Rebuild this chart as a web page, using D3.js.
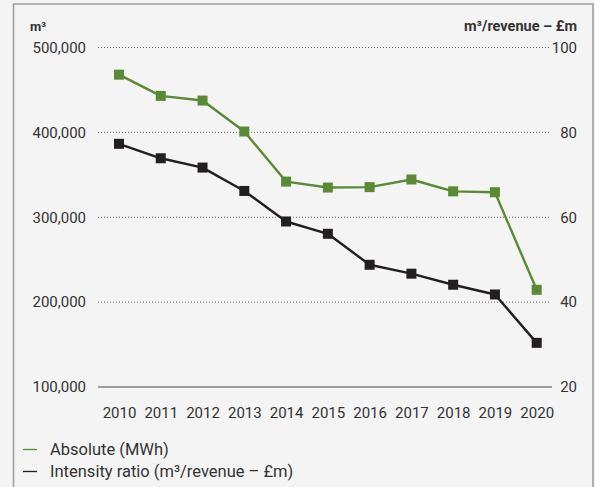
<!DOCTYPE html>
<html>
<head>
<meta charset="utf-8">
<script src="https://cdn.jsdelivr.net/npm/d3@7"></script>
<style>
  html, body { margin: 0; padding: 0; background: #f4f4f4; }
  svg { display: block; font-family: Roboto, "DejaVu Sans", sans-serif; }
</style>
</head>
<body>
<svg id="chart" width="595" height="487"></svg>
<script>
// Water consumption, absolute and intensity, 2010–2020
const years = [2010, 2011, 2012, 2013, 2014, 2015, 2016, 2017, 2018, 2019, 2020];
const absoluteM3 = [468000, 443000, 437500, 401000, 342000, 335000, 335500, 344500, 330500, 329500, 214500];
const intensityRatio = [77.3, 73.9, 71.7, 66.2, 59.0, 56.1, 48.8, 46.7, 44.1, 41.8, 30.4];
const leftTicks = [100000, 200000, 300000, 400000, 500000];
const rightTicks = [20, 40, 60, 80, 100];
const legendLabels = ["Absolute (MWh)", "Intensity ratio (m³/revenue – £m)"];

const GREEN = "#5a8a34";
const BLACK = "#231f20";
const TEXT = "#333333";

const svg = d3.select("#chart");

// outer frame
svg.append("rect")
  .attr("x", 13.5).attr("y", 4).attr("width", 579.5).attr("height", 500)
  .attr("fill", "#f4f4f4").attr("stroke", "#9a9a9a").attr("stroke-width", 1.5);

const x = d3.scalePoint().domain(years).range([119, 536.7]);
const yL = d3.scaleLinear().domain([100000, 500000]).range([387, 47.5]);
const yR = d3.scaleLinear().domain([20, 100]).range([387, 47.5]);

const fmt = d3.format(",");

// dotted gridlines (skip baseline)
svg.append("g")
  .selectAll("line")
  .data(leftTicks.filter(d => d !== 100000))
  .join("line")
  .attr("x1", 98).attr("x2", 551)
  .attr("y1", d => yL(d)).attr("y2", d => yL(d))
  .attr("stroke", "#666").attr("stroke-width", 1)
  .attr("stroke-dasharray", "1,2");

// solid baseline
svg.append("line")
  .attr("x1", 98).attr("x2", 552)
  .attr("y1", yL(100000)).attr("y2", yL(100000))
  .attr("stroke", "#444").attr("stroke-width", 1.2);

// left axis labels
const leftAxis = d3.axisLeft(yL).tickValues(leftTicks).tickFormat(fmt).tickSize(0).tickPadding(0);
const gL = svg.append("g").attr("transform", "translate(86,0)").call(leftAxis);
gL.select(".domain").remove();
gL.selectAll("text").attr("font-size", 15).attr("fill", TEXT).attr("font-family", "Roboto");

// right axis labels
const rightAxis = d3.axisRight(yR).tickValues(rightTicks).tickSize(0).tickPadding(0);
const gR = svg.append("g").attr("transform", "translate(577,0)").call(rightAxis);
gR.select(".domain").remove();
gR.selectAll("text").attr("font-size", 15).attr("fill", TEXT).attr("font-family", "Roboto")
  .attr("text-anchor", "end");

// year labels
const xAxis = d3.axisBottom(x).tickSize(0).tickPadding(0);
const gX = svg.append("g").attr("transform", "translate(0,407)").call(xAxis);
gX.select(".domain").remove();
gX.selectAll("text").attr("font-size", 15).attr("fill", TEXT).attr("font-family", "Roboto");

// axis titles
svg.append("text").attr("x", 30).attr("y", 31)
  .attr("font-size", 13).attr("font-weight", "bold").attr("fill", TEXT)
  .text("m³");
svg.append("text").attr("x", 577).attr("y", 31).attr("text-anchor", "end")
  .attr("font-size", 14.5).attr("font-weight", "bold").attr("fill", TEXT)
  .text("m³/revenue – £m");

// series
const series = [
  { values: absoluteM3, y: yL, color: GREEN },
  { values: intensityRatio, y: yR, color: BLACK }
];

series.forEach(s => {
  const pts = years.map((yr, i) => [x(yr), s.y(s.values[i])]);
  svg.append("path")
    .attr("d", d3.line()(pts))
    .attr("fill", "none").attr("stroke", s.color).attr("stroke-width", 2.4)
    .attr("stroke-linejoin", "round");
  svg.append("g").selectAll("rect")
    .data(pts)
    .join("rect")
    .attr("x", d => d[0] - 5).attr("y", d => d[1] - 5)
    .attr("width", 10).attr("height", 10)
    .attr("fill", s.color);
});

// legend
const legend = svg.append("g");
[GREEN, BLACK].forEach((c, i) => {
  const yy = 455 + i * 22;
  legend.append("line")
    .attr("x1", 23).attr("x2", 37).attr("y1", yy - 5.5).attr("y2", yy - 5.5)
    .attr("stroke", c).attr("stroke-width", 1.3);
  legend.append("text").attr("x", 50).attr("y", yy)
    .attr("font-size", 16.5).attr("fill", TEXT)
    .text(legendLabels[i]);
});
</script>
</body>
</html>
